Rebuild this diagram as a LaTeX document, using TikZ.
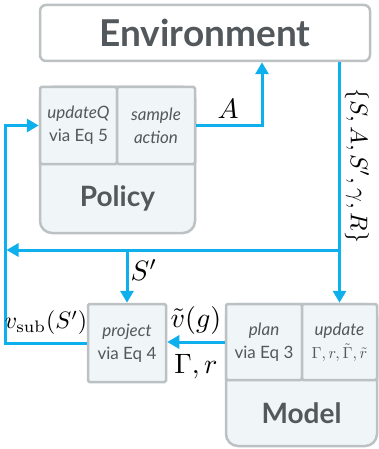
\documentclass[tikz,border=0pt]{standalone}
\usepackage{amsmath}
\usepackage[no-math]{fontspec}
\setmainfont{Lato}
\usetikzlibrary{arrows.meta}

\definecolor{flowblue}{HTML}{0DB0EC}
\definecolor{boxgray}{HTML}{BCC1C3}
\definecolor{boxfill}{HTML}{F0F6F7}
\definecolor{ink}{HTML}{52585B}

\begin{document}
\begin{tikzpicture}[x=1pt, y=-1pt,
    box/.style={draw=boxgray, line width=2.5pt, fill=boxfill, inner sep=0pt},
    cell/.style={box, rounded corners=1.5pt, text=ink, align=center,
        font=\fontsize{17}{23}\selectfont},
    big/.style={box, rounded corners=12pt},
    title/.style={text=ink, font=\fontsize{28}{28}\selectfont\bfseries},
    flow/.style={draw=flowblue, line width=3pt, -{Triangle[width=13pt,length=12pt]}},
    lab/.style={inner sep=0.5pt, font=\fontsize{10}{10}\selectfont, scale=2.8}]
\useasboundingbox (0,0) rectangle (378,449);

% environment
\node[box, fill=white, rounded corners=6pt, minimum width=330pt, minimum height=56pt,
    text=ink, font=\fontsize{37}{37}\selectfont\bfseries] (env) at (205,33) {Environment};

% policy block
\node[big, minimum width=155pt, minimum height=146pt] (pol) at (117.5,160) {};
\node[cell, minimum width=77pt, minimum height=77pt] (updq) at (78.5,125.5) {\itshape updateQ\\via Eq 5};
\node[cell, minimum width=78pt, minimum height=77pt] (sample) at (156,125.5) {\itshape sample\\\itshape action};
\node[title] (policy) at (117.5,198) {Policy};

% model block
\node[big, minimum width=151pt, minimum height=142pt] (mod) at (301.5,375) {};
\node[cell, minimum width=76pt, minimum height=76pt] (plan) at (264,342) {\itshape plan\\via Eq 3};
\node[cell, minimum width=75pt, minimum height=76pt] (update) at (339.5,342)
    {\itshape update\\\scalebox{1.6}{\fontsize{10}{10}\selectfont$\Gamma,r,\tilde\Gamma,\tilde r$}};
\node[title] (model) at (301.5,413) {Model};

% projection
\node[cell, minimum width=78pt, minimum height=78pt] (proj) at (127,343) {\itshape project\\via Eq 4};

\coordinate (back) at (5,250);

% connectors
\draw[flow] (sample.east) -| ([xshift=57pt]env.south);
\draw[flow] (env.south -| update.north) -- (update.north);
\draw[flow, shorten >=1.5pt] (update.north |- back) -- (back);
\draw[flow] (proj.north |- back) -- (proj.north);
\draw[flow] (proj.west) -| (back) |- (updq.west);
\draw[flow] (plan.west) -- (plan.west -| proj.east);

% labels
\node[lab] (alab) at (228,109) {$A$};
\node[lab] (slab) at (144,270) {$S'$};
\node[lab] (vlab) at (196,320) {$\tilde v(g)$};
\node[lab] (glab) at (196,367) {$\Gamma, r$};
\node[lab, scale=0.85] (sublab) at (46,323) {$v_{\mathrm{sub}}(S')$};
\node[lab, scale=0.86, rotate=-90] (tuple) at (357,166) {$\{S,A,S',\gamma,R\}$};
\end{tikzpicture}
\end{document}
